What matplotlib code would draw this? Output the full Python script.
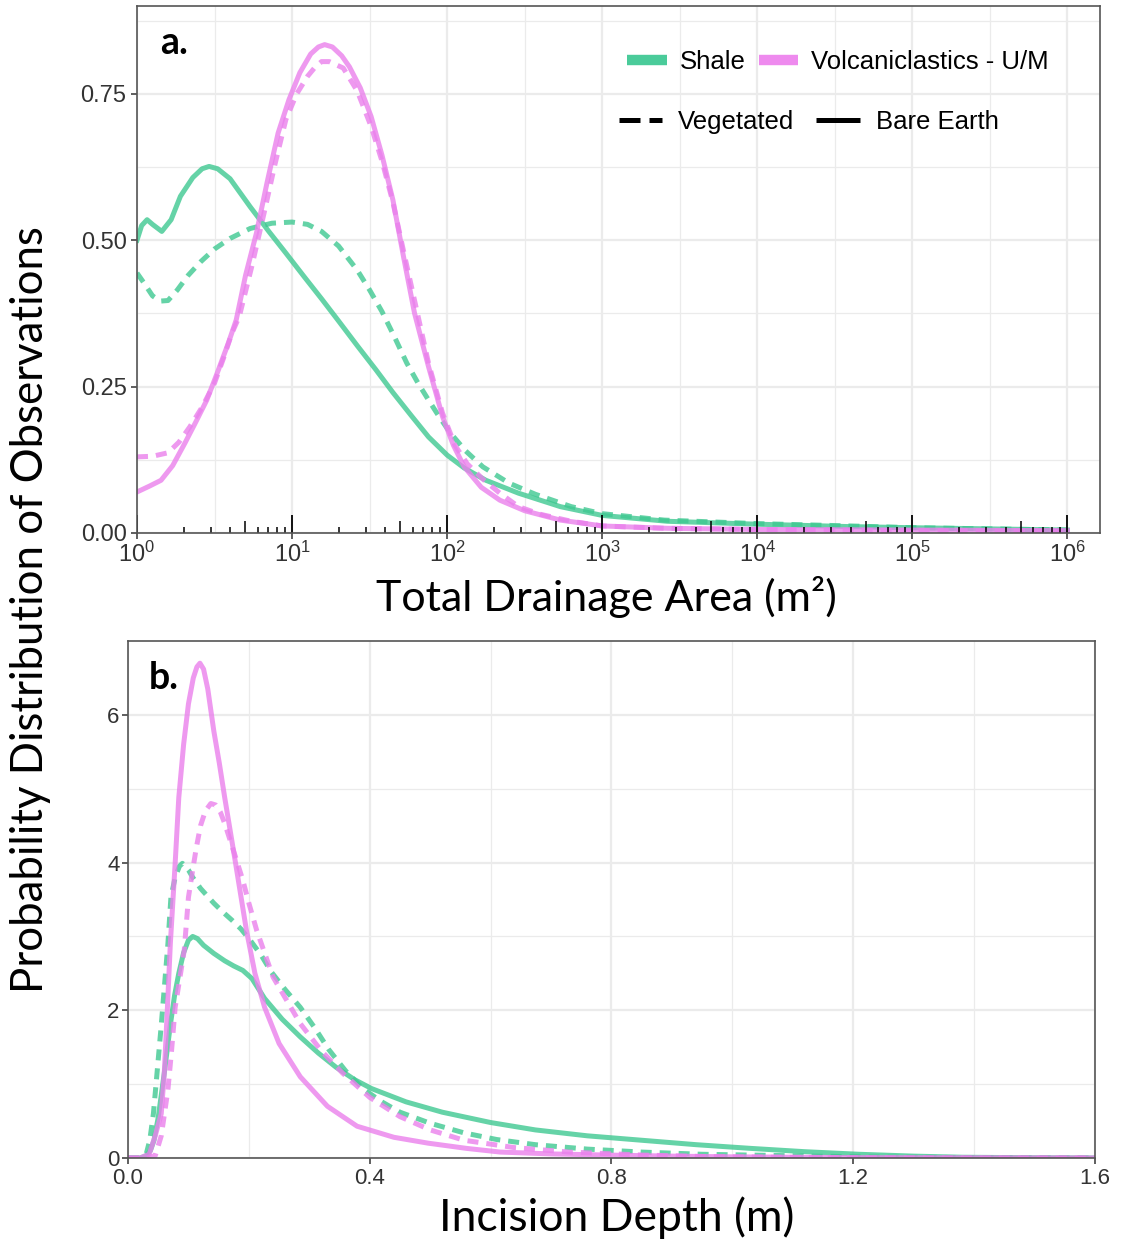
import numpy as np
import matplotlib
matplotlib.use('Agg')
import matplotlib.pyplot as plt
from matplotlib.lines import Line2D
from matplotlib import ticker

plt.rcParams['mathtext.fontset'] = 'custom'
plt.rcParams['mathtext.rm'] = 'Liberation Sans'
plt.rcParams['mathtext.it'] = 'Liberation Sans:italic'

# ---- panel a: density vs log10(total drainage area, m2) ----
shale_bare_a_x = [0, 0.03, 0.065, 0.10, 0.16, 0.22, 0.28, 0.36, 0.42, 0.465, 0.52, 0.6, 0.73,
                  0.85, 0.96, 1.08, 1.19, 1.30, 1.42, 1.54, 1.65, 1.77, 1.88, 2.0, 2.11, 2.25,
                  2.46, 2.73, 3.0, 3.42, 4.0, 4.58, 5.0, 5.5, 6.0]
shale_bare_a_y = [0.50, 0.525, 0.535, 0.527, 0.515, 0.535, 0.575, 0.607, 0.622, 0.626, 0.622,
                  0.605, 0.557, 0.515, 0.478, 0.437, 0.400, 0.362, 0.320, 0.279, 0.240, 0.200,
                  0.164, 0.133, 0.111, 0.09, 0.068, 0.045, 0.03, 0.02, 0.015, 0.011, 0.009,
                  0.007, 0.005]

shale_veg_a_x = [0, 0.05, 0.1, 0.15, 0.2, 0.26, 0.33, 0.41, 0.5, 0.6, 0.73, 0.87, 1.0, 1.1,
                 1.19, 1.3, 1.42, 1.5, 1.58, 1.66, 1.74, 1.81, 1.88, 1.95, 2.02, 2.12, 2.23,
                 2.4, 2.57, 2.8, 3.0, 3.4, 4.0, 4.6, 5.0, 5.5, 6.0]
shale_veg_a_y = [0.444, 0.425, 0.405, 0.396, 0.397, 0.415, 0.44, 0.463, 0.485, 0.503, 0.52,
                 0.529, 0.531, 0.527, 0.515, 0.49, 0.449, 0.415, 0.378, 0.335, 0.29, 0.257,
                 0.227, 0.198, 0.171, 0.14, 0.113, 0.085, 0.066, 0.045, 0.033, 0.022, 0.016,
                 0.012, 0.009, 0.007, 0.005]

volc_bare_a_x = [0, 0.08, 0.155, 0.23, 0.31, 0.38, 0.45, 0.52, 0.59, 0.64, 0.7, 0.77, 0.84,
                 0.91, 0.98, 1.05, 1.12, 1.17, 1.21, 1.26, 1.32, 1.37, 1.44, 1.51, 1.58, 1.65,
                 1.72, 1.79, 1.88, 1.97, 2.04, 2.11, 2.22, 2.34, 2.5, 2.73, 3.0, 3.42, 4.0,
                 5.0, 6.0]
volc_bare_a_y = [0.07, 0.08, 0.09, 0.115, 0.154, 0.19, 0.227, 0.275, 0.325, 0.364, 0.44,
                 0.512, 0.60, 0.683, 0.74, 0.786, 0.818, 0.83, 0.834, 0.83, 0.815, 0.796,
                 0.76, 0.711, 0.645, 0.569, 0.47, 0.375, 0.284, 0.199, 0.15, 0.113, 0.078,
                 0.056, 0.038, 0.022, 0.012, 0.008, 0.006, 0.005, 0.004]

volc_veg_a_x = [0, 0.1, 0.2, 0.27, 0.34, 0.42, 0.5, 0.56, 0.61, 0.66, 0.74, 0.82, 0.89, 0.96,
                1.03, 1.10, 1.15, 1.19, 1.24, 1.33, 1.42, 1.51, 1.58, 1.65, 1.72, 1.8, 1.88,
                1.97, 2.05, 2.13, 2.23, 2.34, 2.46, 2.6, 2.8, 3.0, 3.4, 4.0, 5.0, 6.0]
volc_veg_a_y = [0.13, 0.131, 0.137, 0.155, 0.181, 0.215, 0.256, 0.30, 0.34, 0.37, 0.455,
                0.547, 0.63, 0.706, 0.75, 0.78, 0.796, 0.805, 0.805, 0.794, 0.755, 0.694,
                0.635, 0.565, 0.48, 0.385, 0.29, 0.205, 0.15, 0.118, 0.092, 0.068, 0.045,
                0.032, 0.02, 0.012, 0.008, 0.006, 0.004, 0.003]

# ---- panel b: density vs incision depth (m) ----
shale_bare_b_x = [0, 0.02, 0.03, 0.037, 0.043, 0.05, 0.06, 0.07, 0.077, 0.084, 0.092, 0.1,
                  0.107, 0.115, 0.125, 0.142, 0.16, 0.175, 0.19, 0.205, 0.226, 0.255, 0.285,
                  0.315, 0.344, 0.375, 0.403, 0.46, 0.52, 0.6, 0.674, 0.76, 0.85, 0.94, 1.03,
                  1.12, 1.21, 1.3, 1.38, 1.5, 1.6]
shale_bare_b_y = [0, 0, 0.03, 0.1, 0.24, 0.55, 1.15, 1.8, 2.2, 2.5, 2.78, 2.95, 3.0, 2.97,
                  2.88, 2.77, 2.67, 2.6, 2.54, 2.43, 2.16, 1.88, 1.64, 1.42, 1.23, 1.06, 0.94,
                  0.76, 0.62, 0.48, 0.38, 0.3, 0.24, 0.18, 0.13, 0.085, 0.05, 0.025, 0.01,
                  0.003, 0]

shale_veg_b_x = [0, 0.02, 0.03, 0.036, 0.042, 0.048, 0.055, 0.061, 0.066, 0.071, 0.078,
                 0.085, 0.09, 0.095, 0.1, 0.107, 0.12, 0.142, 0.157, 0.172, 0.187, 0.202,
                 0.22, 0.237, 0.26, 0.285, 0.31, 0.332, 0.36, 0.39, 0.42, 0.45, 0.5, 0.556,
                 0.61, 0.674, 0.76, 0.85, 0.95, 1.1, 1.25, 1.6]
shale_veg_b_y = [0, 0, 0.05, 0.24, 0.6, 1.15, 1.8, 2.4, 2.9, 3.53, 3.8, 3.95, 3.99, 3.95,
                 3.9, 3.8, 3.65, 3.45, 3.33, 3.22, 3.1, 2.95, 2.75, 2.52, 2.28, 2.04, 1.75,
                 1.47, 1.18, 0.93, 0.76, 0.62, 0.47, 0.34, 0.25, 0.18, 0.12, 0.08, 0.05,
                 0.03, 0.01, 0]

volc_bare_b_x = [0, 0.02, 0.035, 0.045, 0.055, 0.06, 0.065, 0.07, 0.078, 0.084, 0.092, 0.1,
                 0.108, 0.114, 0.119, 0.125, 0.132, 0.142, 0.151, 0.16, 0.178, 0.196, 0.21,
                 0.226, 0.25, 0.285, 0.33, 0.379, 0.44, 0.497, 0.56, 0.616, 0.7, 0.79, 0.9,
                 1.0, 1.2, 1.6]
volc_bare_b_y = [0, 0, 0.05, 0.3, 0.6, 1.15, 2.0, 2.9, 3.99, 4.88, 5.6, 6.15, 6.5, 6.65,
                 6.7, 6.62, 6.35, 5.78, 5.35, 4.88, 3.99, 3.08, 2.5, 2.04, 1.55, 1.1, 0.7,
                 0.43, 0.28, 0.2, 0.13, 0.08, 0.055, 0.04, 0.025, 0.015, 0.005, 0]

volc_veg_b_x = [0, 0.03, 0.045, 0.055, 0.066, 0.072, 0.078, 0.086, 0.093, 0.10, 0.107,
                0.113, 0.12, 0.128, 0.137, 0.145, 0.153, 0.16, 0.175, 0.19, 0.2, 0.213, 0.24,
                0.285, 0.32, 0.355, 0.4, 0.45, 0.5, 0.556, 0.64, 0.73, 0.85, 0.95, 1.13, 1.3,
                1.6]
volc_veg_b_y = [0, 0, 0.03, 0.3, 0.92, 1.45, 2.04, 2.45, 2.81, 3.53, 3.9, 4.2, 4.5, 4.7,
                4.8, 4.78, 4.68, 4.53, 4.15, 3.76, 3.45, 3.08, 2.45, 1.82, 1.45, 1.15, 0.82,
                0.56, 0.38, 0.24, 0.14, 0.08, 0.04, 0.02, 0.005, 0, 0]

a_xticks = [0, 1, 2, 3, 4, 5, 6]
b_xticks = [0.0, 0.4, 0.8, 1.2, 1.6]
b_xlabels = ['0.0', '0.4', '0.8', '1.2', '1.6']

GREEN = '#3FC891'
PINK = '#EA80EC'
LW = 3.6
DASH = (0, (2.2, 1.6))
ALPHA = 0.8
GRID = '#EBEBEB'
TICKC = '#333333'
TITLE_FONT = ['Lato', 'DejaVu Sans']
TICK_FONT = ['Liberation Sans Narrow', 'Liberation Sans']

fig = plt.figure(figsize=(11.22, 12.45), dpi=100)


def style_frame(ax):
    for s in ax.spines.values():
        s.set_color('#555555')
        s.set_linewidth(1.2)
    ax.set_axisbelow(True)
    ax.grid(which='major', color=GRID, lw=1.6)
    ax.grid(which='minor', color=GRID, lw=0.9)
    ax.tick_params(which='major', length=4, width=1.1, color=TICKC, labelcolor=TICKC)
    ax.tick_params(which='minor', length=0)


# ---------------- panel a ----------------
axa = fig.add_axes([0.1221, 0.5719, 0.8583, 0.4233])
axa.set_xscale('log')
axa.plot(10 ** np.array(shale_veg_a_x), shale_veg_a_y, color=GREEN, lw=LW, ls=DASH, alpha=ALPHA)
axa.plot(10 ** np.array(shale_bare_a_x), shale_bare_a_y, color=GREEN, lw=LW, alpha=ALPHA)
axa.plot(10 ** np.array(volc_veg_a_x), volc_veg_a_y, color=PINK, lw=LW, ls=DASH, alpha=ALPHA)
axa.plot(10 ** np.array(volc_bare_a_x), volc_bare_a_y, color=PINK, lw=LW, alpha=ALPHA)
axa.set_xlim(1, 10 ** 6.21)
axa.set_ylim(0, 0.90)
style_frame(axa)
axa.xaxis.set_major_locator(ticker.FixedLocator([10.0 ** k for k in a_xticks]))
axa.xaxis.set_major_formatter(ticker.FixedFormatter([r'$\mathregular{10^{%d}}$' % k for k in a_xticks]))
axa.xaxis.set_minor_locator(ticker.FixedLocator([10.0 ** (k + 0.5) for k in a_xticks]))
axa.yaxis.set_major_locator(ticker.FixedLocator([0, 0.25, 0.5, 0.75]))
axa.yaxis.set_major_formatter(ticker.FixedFormatter(['0.00', '0.25', '0.50', '0.75']))
axa.yaxis.set_minor_locator(ticker.FixedLocator([0.125, 0.375, 0.625, 0.875]))
for lab in axa.get_xticklabels() + axa.get_yticklabels():
    lab.set_family('Liberation Sans')
    lab.set_fontsize(17)
axa.tick_params(axis='x', pad=2)

# log ticks along the bottom, like annotation_logticks
tr = axa.get_xaxis_transform()
for k in a_xticks:
    axa.vlines(10.0 ** k, 0, 0.034, transform=tr, color='black', lw=1.3)
    for m in range(2, 10):
        if np.log10(m) + k > 6.21:
            continue
        h = 0.023 if m == 5 else 0.011
        axa.vlines(m * 10.0 ** k, 0, h, transform=tr, color='black', lw=1.1)

axa.text(0.024, 0.93, 'a.', transform=axa.transAxes, family=TITLE_FONT, weight='bold',
         fontsize=27, va='center', ha='left')
axa.set_xlabel('Total Drainage Area (m²)', family=TITLE_FONT, fontsize=31)
axa.xaxis.set_label_coords(0.487, -0.121)
axa.xaxis.label.set_va('center')

LEG_FONT = {'family': TICK_FONT, 'size': 18.5}
h_src = [Line2D([], [], color='#4ACB9A', lw=7.5, solid_capstyle='butt'),
         Line2D([], [], color='#EE8AEE', lw=7.5, solid_capstyle='butt')]
leg1 = axa.legend(h_src, ['Shale', 'Volcaniclastics - U/M'], ncol=2, loc='center right',
                  bbox_to_anchor=(0.947, 0.894), frameon=False, borderpad=0, borderaxespad=0,
                  handlelength=1.55, handletextpad=0.5, columnspacing=0.5, prop=LEG_FONT)
axa.add_artist(leg1)
h_cov = [Line2D([], [], color='black', lw=3.6, ls=(0, (4.2, 1.8)), dash_capstyle='butt'),
         Line2D([], [], color='black', lw=3.6, solid_capstyle='butt')]
axa.legend(h_cov, ['Vegetated', 'Bare Earth'], ncol=2, loc='center right',
           bbox_to_anchor=(0.895, 0.78), frameon=False, borderpad=0, borderaxespad=0,
           handlelength=1.7, handletextpad=0.62, columnspacing=0.85, prop=LEG_FONT)

# ---------------- panel b ----------------
axb = fig.add_axes([0.1141, 0.0699, 0.8618, 0.4152])
axb.plot(shale_veg_b_x, shale_veg_b_y, color=GREEN, lw=LW, ls=DASH, alpha=ALPHA)
axb.plot(shale_bare_b_x, shale_bare_b_y, color=GREEN, lw=LW, alpha=ALPHA)
axb.plot(volc_veg_b_x, volc_veg_b_y, color=PINK, lw=LW, ls=DASH, alpha=ALPHA)
axb.plot(volc_bare_b_x, volc_bare_b_y, color=PINK, lw=LW, alpha=ALPHA)
axb.set_xlim(0, 1.6)
axb.set_ylim(0, 7.0)
style_frame(axb)
axb.xaxis.set_major_locator(ticker.FixedLocator(b_xticks))
axb.xaxis.set_major_formatter(ticker.FixedFormatter(b_xlabels))
axb.xaxis.set_minor_locator(ticker.FixedLocator([0.2, 0.6, 1.0, 1.4]))
axb.yaxis.set_major_locator(ticker.FixedLocator([0, 2, 4, 6]))
axb.yaxis.set_minor_locator(ticker.FixedLocator([1, 3, 5]))
for lab in axb.get_xticklabels() + axb.get_yticklabels():
    lab.set_family(TICK_FONT)
    lab.set_fontsize(16)
axb.tick_params(axis='x', pad=3)
axb.tick_params(axis='y', pad=2)

axb.text(0.021, 0.928, 'b.', transform=axb.transAxes, family=TITLE_FONT, weight='bold',
         fontsize=27, va='center', ha='left')
axb.set_xlabel('Incision Depth (m)', family=TITLE_FONT, fontsize=32)
axb.xaxis.set_label_coords(0.505, -0.116)
axb.xaxis.label.set_va('center')

fig.text(0.027, 0.51, 'Probability Distribution of Observations', rotation=90,
         family=TITLE_FONT, fontsize=31.5, ha='center', va='center')

fig.savefig('out.png', dpi=100)
